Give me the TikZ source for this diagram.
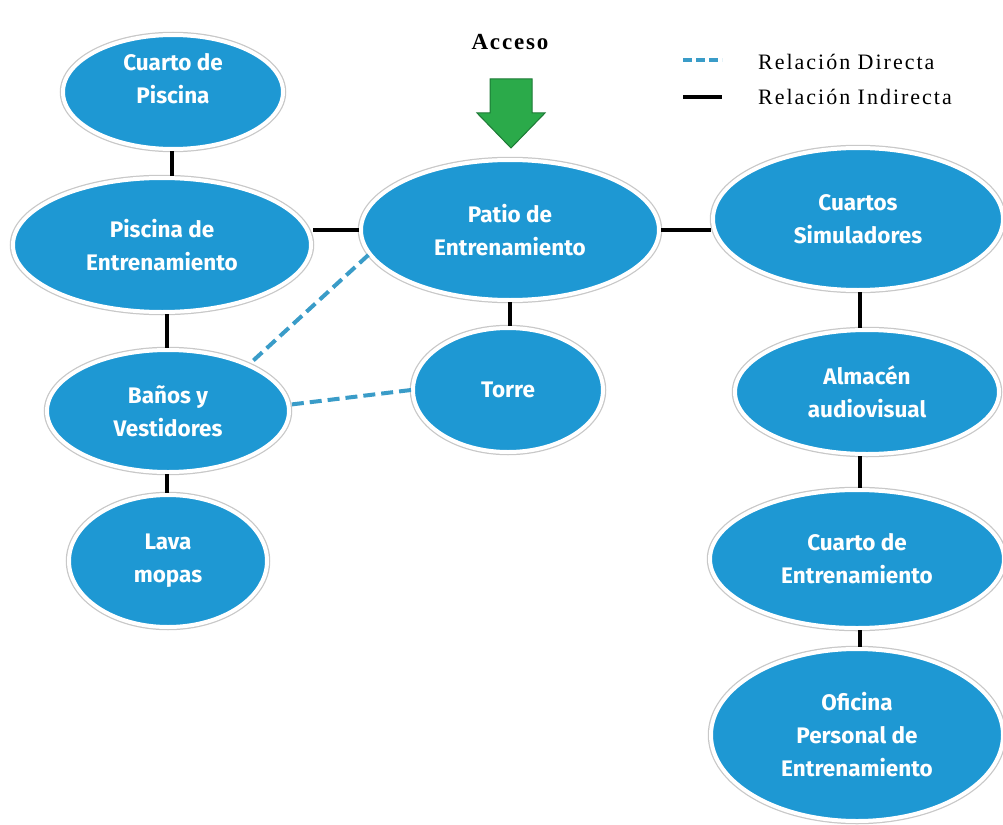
\documentclass[tikz,border=0pt]{standalone}
\usepackage{fontspec}
\usetikzlibrary{shapes.geometric}
\newfontfamily\nodefont{Fira Sans}
\setmainfont{Liberation Serif}
\definecolor{nodeblue}{HTML}{1E98D3}
\definecolor{dashblue}{HTML}{3A9CC8}
\definecolor{arrowgreen}{HTML}{2BAA4A}
\definecolor{arrowedge}{HTML}{1D7A36}
\definecolor{rimgray}{HTML}{C8C8C8}
\tikzset{
  room/.style={ellipse, inner sep=0pt, fill=nodeblue, draw=white, line width=4pt,
    preaction={draw=rimgray, line width=6.5pt},
    text=white, align=center,
    font=\nodefont\bfseries\fontsize{22.5}{33}\selectfont},
  indirect/.style={draw=black, line width=4pt},
  direct/.style={draw=dashblue, line width=4pt, dash pattern=on 12pt off 6pt},
  legendtext/.style={anchor=west, inner sep=0pt, font=\addfontfeatures{LetterSpace=9}\fontsize{22}{24}\selectfont}
}
\begin{document}
\begin{tikzpicture}[x=1pt,y=-1pt]
\useasboundingbox (0,0) rectangle (1003,824);
\node[room, minimum width=220pt, minimum height=114pt, text depth=27pt] (cp) at (173,92) {Cuarto de\\Piscina};
\node[room, minimum width=298pt, minimum height=134pt] (pis) at (162,245) {Piscina de\\Entrenamiento};
\node[room, minimum width=298pt, minimum height=140pt] (patio) at (510,230) {Patio de\\Entrenamiento};
\node[room, minimum width=290pt, minimum height=142pt] (cs) at (858,219) {Cuartos\\Simuladores};
\node[room, minimum width=242pt, minimum height=122pt] (ban) at (168,411) {Baños y\\Vestidores};
\node[room, minimum width=190pt, minimum height=124pt] (torre) at (508,390) {Torre};
\node[room, minimum width=264pt, minimum height=124pt] (alm) at (867,392) {Almacén\\audiovisual};
\node[room, minimum width=198pt, minimum height=132pt] (lava) at (168,561) {Lava\\mopas};
\node[room, minimum width=294pt, minimum height=138pt] (ce) at (857,559) {Cuarto de\\Entrenamiento};
\node[room, minimum width=292pt, minimum height=172pt] (of) at (857,735) {Oficina\\Personal de\\Entrenamiento};
% indirect relations
\draw[indirect] ([xshift=-1pt]cp.south) -- ([xshift=-1pt]cp.south |- pis.north);
\draw[indirect] (patio.west) -- (patio.west -| pis.east);
\draw[indirect] (patio.east) -- (patio.east -| cs.west);
\draw[indirect] ([xshift=5pt]pis.south) -- ([xshift=5pt]pis.south |- ban.north);
\draw[indirect] ([xshift=-1pt]ban.south) -- ([xshift=-1pt]ban.south |- lava.north);
\draw[indirect] (patio.south) -- (patio.south |- torre.north);
\draw[indirect] ([xshift=2pt]cs.south) -- ([xshift=2pt]cs.south |- alm.north);
\draw[indirect] ([xshift=-7pt]alm.south) -- ([xshift=-7pt]alm.south |- ce.north);
\draw[indirect] ([xshift=3pt]ce.south) -- ([xshift=3pt]ce.south |- of.north);
% direct relations
\draw[direct] (patio.190) -- (ban.30);
\draw[direct] (torre.west) -- (ban.3);
% access arrow
\node[inner sep=0pt, font=\bfseries\addfontfeatures{LetterSpace=8}\fontsize{23}{24}\selectfont] (acc) at (510,42) {Acceso};
\coordinate (tip) at (511,148);
\draw[fill=arrowgreen, draw=arrowedge, line width=1pt, line join=miter]
  (490,79) -- (532,79) -- (532,113) -- (545,113) -- (tip) -- (477,113) -- (490,113) -- cycle;
% legend
\coordinate (d1) at (683,60); \coordinate (d2) at (722,60);
\coordinate (s1) at (683,97); \coordinate (s2) at (722,97);
\draw[direct, dash pattern=on 9pt off 4pt] (d1) -- (d2);
\draw[indirect] (s1) -- (s2);
\node[legendtext] (ld) at (758,62) {Relación Directa};
\node[legendtext] (li) at (758,97) {Relación Indirecta};
\end{tikzpicture}
\end{document}
